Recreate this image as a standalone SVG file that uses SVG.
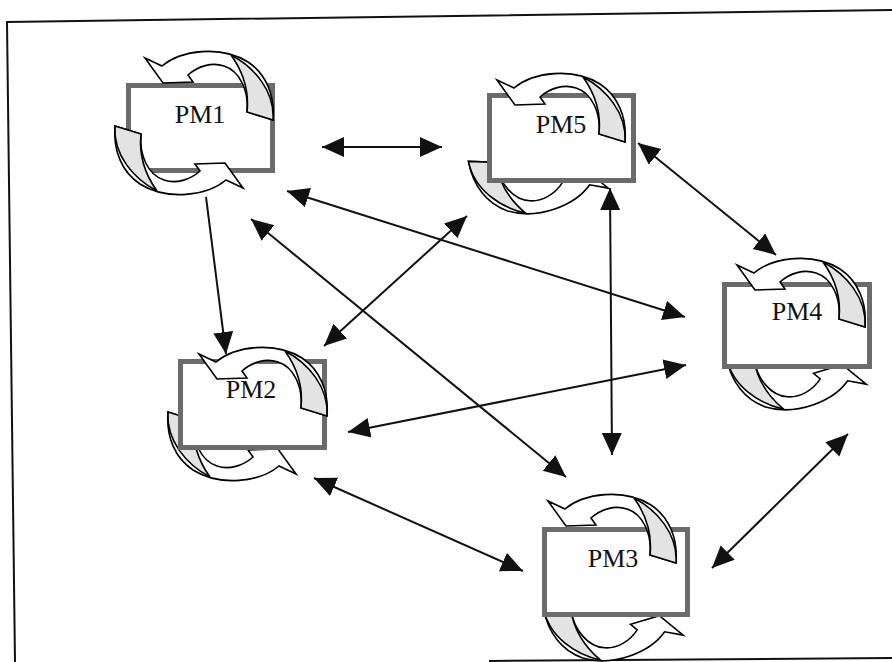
<svg xmlns="http://www.w3.org/2000/svg" xmlns:xlink="http://www.w3.org/1999/xlink" width="892" height="662" viewBox="0 0 892 662">
<style>
.w{fill:#fff;stroke:#000;stroke-width:1.6;stroke-linejoin:miter}
.g{fill:#e3e3e3;stroke:#000;stroke-width:1.6}
.box{fill:#fff;stroke:#6b6b6b;stroke-width:5}
.lbl{font-family:"Liberation Serif","Times New Roman",serif;font-size:26px;fill:#111;text-anchor:middle}
.c{stroke:#111;stroke-width:2;fill:none;marker-end:url(#ah)}
.cb{marker-start:url(#ah)}
.frame{stroke:#111;stroke-width:2;fill:none}
</style>
<defs>
<marker id="ah" markerUnits="userSpaceOnUse" markerWidth="24" markerHeight="22" refX="22" refY="10" orient="auto-start-reverse">
<path d="M0,0 L22,10 L0,20 Z" fill="#111"/>
</marker>
<g id="carrow">
<path class="w" d="M19,-25 L36,-17 C55,-33 95,-38 122,-21 C140,-9 149,12 147,37 L121,29 C123,8 114,-12 98,-17 C86,-21 72,-17 62,-8 L67,-1 L37,0 Z"/>
<path class="g" d="M105,-28 C128,-16 149,8 147,37 L121,29 C123,10 118,-10 105,-28 Z"/>
</g>
</defs>
<rect width="892" height="662" fill="#fff"/>
<g id="frame">
<polyline class="frame" points="892,10 7,22 15,662"/>
<line class="frame" x1="489" y1="661" x2="892" y2="658"/>
</g>
<g id="PM1" transform="translate(126,83)">
<rect class="box" x="2.5" y="2.5" width="144" height="85"/>
<text class="lbl" x="74" y="40">PM1</text>
<use xlink:href="#carrow" href="#carrow"/>
<use xlink:href="#carrow" href="#carrow" transform="rotate(180,68,40)"/>
</g>
<g id="PM5" transform="translate(487,93)">
<use xlink:href="#carrow" href="#carrow" transform="translate(-11,5) rotate(165,68,40)"/>
<rect class="box" x="2.5" y="2.5" width="144" height="85"/>
<text class="lbl" x="74" y="40">PM5</text>
<use xlink:href="#carrow" href="#carrow" transform="translate(-9,12)"/>
</g>
<g id="PM4" transform="translate(722,282)">
<use xlink:href="#carrow" href="#carrow" transform="translate(12,12) rotate(165,68,40)"/>
<rect class="box" x="2.5" y="2.5" width="145" height="82"/>
<text class="lbl" x="75" y="38">PM4</text>
<use xlink:href="#carrow" href="#carrow" transform="translate(-4,8)"/>
</g>
<g id="PM2" transform="translate(178,359)">
<use xlink:href="#carrow" href="#carrow" transform="translate(1,10) rotate(180,68,40)"/>
<rect class="box" x="2.5" y="2.5" width="144" height="86"/>
<text class="lbl" x="73" y="39">PM2</text>
<use xlink:href="#carrow" href="#carrow" transform="translate(2,20)"/>
</g>
<g id="PM3" transform="translate(542,527)">
<use xlink:href="#carrow" href="#carrow" transform="translate(9,18) rotate(165,68,40)"/>
<rect class="box" x="2.5" y="2.5" width="143" height="85"/>
<text class="lbl" x="71" y="40">PM3</text>
<use xlink:href="#carrow" href="#carrow" transform="translate(-13,-1)"/>
</g>
<g id="connectors">
<line class="c cb" x1="322" y1="147" x2="442" y2="147"/>
<line class="c" x1="206" y1="197" x2="226" y2="354"/>
<line class="c cb" x1="287" y1="191" x2="685" y2="317"/>
<line class="c cb" x1="251" y1="219" x2="566" y2="477"/>
<line class="c cb" x1="467" y1="216" x2="324" y2="346"/>
<line class="c cb" x1="610" y1="188" x2="612" y2="455"/>
<line class="c cb" x1="638" y1="143" x2="776" y2="255"/>
<line class="c cb" x1="348" y1="432" x2="686" y2="365"/>
<line class="c cb" x1="314" y1="478" x2="523" y2="571"/>
<line class="c cb" x1="712" y1="568" x2="848" y2="434"/>
</g>
</svg>
